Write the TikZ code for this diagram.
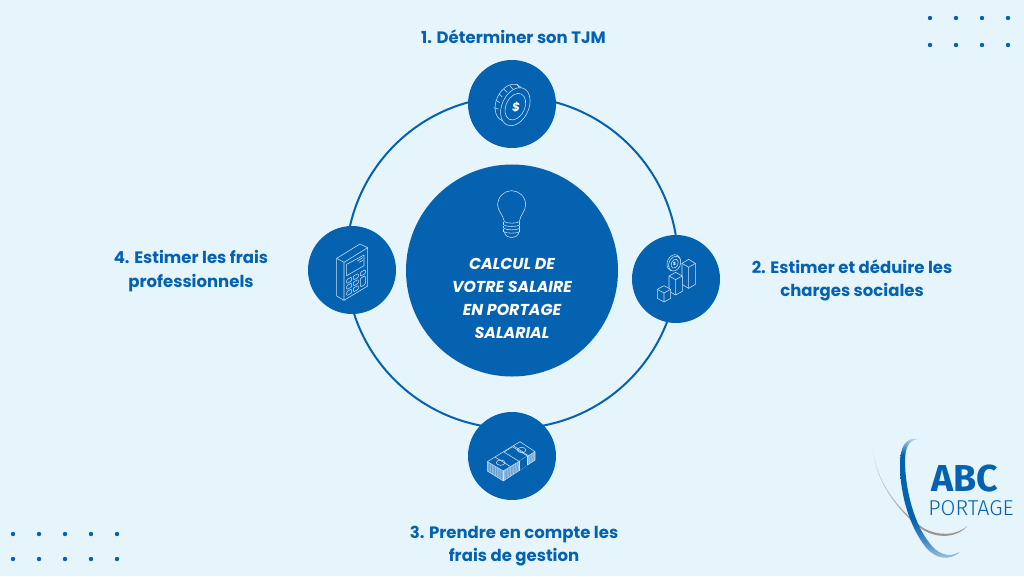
\documentclass[tikz,border=0pt]{standalone}
\usepackage{fontspec}
\setmainfont{Poppins}[BoldFont=Poppins Bold,BoldItalicFont=Poppins Bold Italic]
\newfontfamily\logofont{Fira Sans}
\newfontfamily\logolight{Fira Sans Light}
\definecolor{bgc}{HTML}{E6F4FB}
\definecolor{blu}{HTML}{0562B0}
\definecolor{ico}{HTML}{CFE3F3}
\pgfdeclareverticalshading{blueswoosh}{100bp}{color(0bp)=(blu!25!bgc); color(25bp)=(blu!25!bgc); color(33bp)=(blu!70!bgc); color(42bp)=(blu); color(68bp)=(blu); color(75bp)=(blu!15!bgc); color(100bp)=(blu!15!bgc)}
\definecolor{tau}{HTML}{9A9088}
\pgfdeclareverticalshading{grayswoosh}{100bp}{color(0bp)=(tau); color(25bp)=(tau); color(38bp)=(tau!85!bgc); color(55bp)=(tau!45!bgc); color(75bp)=(bgc); color(100bp)=(bgc)}
\tikzset{
 disc/.style={circle,fill=blu,inner sep=0pt,minimum size=88pt},
 lab/.style={text=blu,font=\bfseries\fontsize{16.5}{23.5}\selectfont,align=center,inner sep=0pt},
 ctr/.style={text=white,font=\bfseries\itshape\fontsize{15.8}{23}\selectfont,align=center,inner sep=0pt},
 icon/.style={draw=ico,line width=.55pt,line join=round},
 zoomed/.style={x=0.33333pt,y=-0.33333pt},
 dot/.style={circle,fill=blu,inner sep=0pt,minimum size=4.4pt}
}
\newcommand{\isobox}[6]{% cx w ty d h fill
 \filldraw[icon,fill=blu] (#1-#2,#3) -- (#1,#3-#4) -- (#1+#2,#3) -- (#1+#2,#3+#5) -- (#1,#3+#4+#5) -- (#1-#2,#3+#5) -- cycle;
 \draw[icon] (#1-#2,#3) -- (#1,#3+#4) -- (#1+#2,#3) (#1,#3+#4) -- (#1,#3+#4+#5);
}
\begin{document}
\begin{tikzpicture}[x=1pt,y=-1pt]
\useasboundingbox (0,0) rectangle (1024,576);
\fill[bgc] (0,0) rectangle (1024,576);
% ring
\node[circle,draw=blu,line width=2pt,minimum size=332pt,inner sep=0pt] (ring) at (512,262.5) {};
\node[circle,fill=blu,inner sep=0pt,minimum size=212pt] (hub) at (512,270.5) {};
\node[disc] (n1) at (512,104) {};
\node[disc] (n2) at (676,279) {};
\node[disc] (n3) at (512,456) {};
\node[disc] (n4) at (352,270) {};
% labels
\node[lab] (t1) at (513.5,37) {1. Déterminer son TJM};
\node[lab] (t2) at (852,280.5) {2. Estimer et déduire les\\charges sociales};
\node[lab] (t3) at (514,546) {3. Prendre en compte les\\frais de gestion};
\node[lab] (t4) at (191,271) {4. Estimer les frais\\professionnels};
\node[ctr] (tc) at (512,298.5) {CALCUL DE\\VOTRE SALAIRE\\EN PORTAGE\\SALARIAL};
% bulb
\begin{scope}[shift={(470,175)},zoomed]
\draw[icon] (103,140) .. controls (100,120) and (83,108) .. (83,90) .. controls (83,65) and (103,47) .. (125,47) .. controls (147,47) and (167,65) .. (167,90) .. controls (167,108) and (150,120) .. (148,140);
\draw[icon] (103,140) .. controls (112,146) and (138,146) .. (148,140);
\foreach \yy in {150,160,170}{\draw[icon] (101,\yy) .. controls (110,\yy+6) and (140,\yy+6) .. (149,\yy);\draw[icon] (101,\yy) -- (101,\yy-8) (149,\yy) -- (149,\yy-8);}
\draw[icon] (103,172) .. controls (106,183) and (116,188) .. (125,188) .. controls (134,188) and (144,183) .. (147,172);
\end{scope}
% coin
\begin{scope}[shift={(460,55)},zoomed]
\draw[icon] (149,143) circle[x radius=40,y radius=58,rotate=-25];
\filldraw[icon,fill=blu] (166,155) circle[x radius=40,y radius=60,rotate=-25];
\draw[icon] (166,155) circle[x radius=28,y radius=42,rotate=-25];
\draw[icon] (132,103) -- (142,112) (118,117) -- (127,126) (107,135) -- (119,143) (101,158) -- (115,162) (150,92) -- (158,102) (170,86) -- (178,98);
\node[text=white,font=\bfseries\itshape\fontsize{12}{12}\selectfont,inner sep=0pt] (coinS) at (168,157) {\$};
\end{scope}
% chart
\begin{scope}[shift={(625,230)},zoomed]
\isobox{191}{20}{100}{12}{63}{}
\isobox{152}{20}{138}{11}{46}{}
\isobox{117}{20}{178}{11}{27}{}
\filldraw[icon,fill=blu] (146,98) circle[x radius=19,y radius=25,rotate=-25];
\filldraw[icon,fill=blu] (149,101) circle[x radius=17,y radius=23,rotate=-25];
\draw[icon] (149,101) circle[x radius=10,y radius=14,rotate=-25];
\node[text=white,font=\bfseries\fontsize{4.5}{5}\selectfont,inner sep=0pt] (chartS) at (149,101) {\$};
\end{scope}
% money
\begin{scope}[shift={(460,405)},zoomed]
\foreach \k in {0,3,...,27}{\draw[icon,line width=.4pt] (82,170+\k) -- (130,198+\k) -- (225,140+\k*0.9);}
\draw[icon] (82,170) -- (82,198) -- (130,228) -- (225,165) -- (225,140);
\filldraw[icon,fill=blu] (82,170) -- (180,110) -- (225,140) -- (130,198) -- cycle;
\draw[icon] (130,198) -- (130,228);
\draw[icon] (105,156) -- (150,184) (160,122) -- (205,152);
\filldraw[icon,fill=blu] (132,141) -- (157,125) -- (202,153) -- (177,169) -- cycle;
\fill[blu] (177,169) -- (202,153) -- (202,181) -- (177,197) -- cycle;
\draw[icon] (177,169) -- (177,197) (202,153) -- (202,181);
\draw[icon] (122,173) circle[x radius=13,y radius=8];
\draw[icon] (185,135) circle[x radius=13,y radius=8];
\end{scope}
% calculator
\begin{scope}[shift={(300,225)},zoomed]
\draw[icon] (110,100) -- (180,57) -- (203,68) -- (203,183) -- (132,226) -- (110,213) -- cycle;
\draw[icon] (110,100) -- (132,112) -- (203,68) (132,112) -- (132,226);
\draw[icon] (140,118) -- (192,90) -- (192,122) -- (140,152) -- cycle;
\draw[icon] (172,108) -- (188,98) (178,112) -- (188,106);
\foreach \xx/\yy in {140/164,160/153,181/142, 140/182,160/171, 140/200,160/189}{
 \draw[icon,rounded corners=1pt] (\xx,\yy) -- (\xx+15,\yy-8) -- (\xx+15,\yy+4) -- (\xx,\yy+12) -- cycle;}
\draw[icon,rounded corners=1pt] (181,160) -- (196,152) -- (196,178) -- (181,186) -- cycle;
\end{scope}
% dots
\foreach \xx [count=\i] in {930,956,982,1008}{
 \node[dot] (ua\i) at (\xx,18) {};
 \node[dot] (ub\i) at (\xx,45) {};}
\foreach \xx [count=\i] in {13,39,65,91,117}{
 \node[dot] (la\i) at (\xx,534) {};
 \node[dot] (lb\i) at (\xx,559) {};}
% logo
\begin{scope}[shift={(860,425)},zoomed]
\shade[shading=grayswoosh]
 (37,55) .. controls (38,150) and (100,250) .. (190,315) .. controls (230,340) and (290,340) .. (322,303)
 .. controls (285,334) and (235,332) .. (193,311) .. controls (108,252) and (43,160) .. (37,55) -- cycle;
\shade[shading=blueswoosh]
 (178,42) .. controls (135,35) and (120,65) .. (120,120) .. controls (120,210) and (150,310) .. (200,370) .. controls (225,398) and (265,412) .. (300,380)
 .. controls (265,402) and (230,385) .. (207,352) .. controls (165,300) and (136,200) .. (135,110) .. controls (135,70) and (145,42) .. (178,42) -- cycle;
\end{scope}
\node[text=blu,font=\logofont\bfseries\fontsize{37.5}{38}\selectfont,inner sep=0pt] (abc) at (965,478) {ABC};
\node[text=blu,font=\logolight\fontsize{21.5}{22}\selectfont,inner sep=0pt] (portage) at (971,508) {PORTAGE};
\end{tikzpicture}
\end{document}
